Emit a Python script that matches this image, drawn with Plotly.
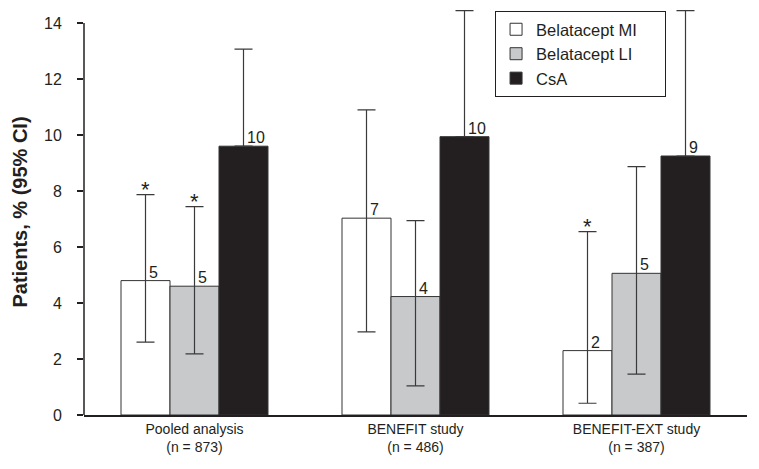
import plotly.graph_objects as go

groups = ["Pooled analysis<br>(n = 873)", "BENEFIT study<br>(n = 486)", "BENEFIT-EXT study<br>(n = 387)"]
series = ["Belatacept MI", "Belatacept LI", "CsA"]
values = {
    "Belatacept MI": [4.8, 7.03, 2.3],
    "Belatacept LI": [4.6, 4.23, 5.06],
    "CsA": [9.6, 9.94, 9.25],
}
ci_upper = {
    "Belatacept MI": [7.87, 10.9, 6.55],
    "Belatacept LI": [7.44, 6.94, 8.87],
    "CsA": [13.07, 14.44, 14.44],
}
# lower limits of the CsA intervals are hidden inside the black bars
ci_lower = {
    "Belatacept MI": [2.6, 2.97, 0.42],
    "Belatacept LI": [2.18, 1.04, 1.46],
    "CsA": [9.6, 9.94, 9.25],
}
labels = {
    "Belatacept MI": ["5", "7", "2"],
    "Belatacept LI": ["5", "4", "5"],
    "CsA": ["10", "10", "9"],
}
significant = {
    "Belatacept MI": [True, False, True],
    "Belatacept LI": [True, False, False],
    "CsA": [False, False, False],
}
colors = {"Belatacept MI": "#ffffff", "Belatacept LI": "#c8c9cb", "CsA": "#231f20"}

FONT = "Liberation Sans, Arial, sans-serif"
DARK = "#231f20"
bar_w = 0.2217
offsets = [-bar_w, 0, bar_w]
xpos = [0, 1, 2]
legend_pad = {"Belatacept MI": "\u00a0" * 5, "Belatacept LI": "", "CsA": ""}

fig = go.Figure()
for si, s in enumerate(series):
    xs = [x + offsets[si] for x in xpos]
    fig.add_trace(go.Bar(
        x=xs, y=values[s], name=s + legend_pad[s], width=bar_w,
        marker=dict(color=colors[s], line=dict(color="#333333", width=1)),
        error_y=dict(type="data", symmetric=False,
                     array=[u - v for u, v in zip(ci_upper[s], values[s])],
                     arrayminus=[v - l for v, l in zip(values[s], ci_lower[s])],
                     color="#3a3a3a", thickness=1.2, width=9),
        cliponaxis=False,
    ))
    for i, x in enumerate(xs):
        fig.add_annotation(x=x, y=values[s][i], text=labels[s][i], showarrow=False,
                           xanchor="left", yanchor="bottom", xshift=1, yshift=-2,
                           font=dict(family=FONT, size=16, color=DARK))
        if significant[s][i]:
            fig.add_annotation(x=x, y=ci_upper[s][i], text="*", showarrow=False,
                               xanchor="center", yanchor="bottom", yshift=-9,
                               font=dict(family=FONT, size=22, color=DARK))

fig.add_shape(type="line", xref="paper", yref="y", x0=0, x1=0, y0=0, y1=14,
              line=dict(color=DARK, width=1.5))

# the page body adds an 8px margin, so the figure is 8px smaller on each axis
fig.update_layout(
    width=751, height=461,
    margin=dict(l=76, r=12, t=1, b=54, autoexpand=False),
    paper_bgcolor="white", plot_bgcolor="white",
    barmode="overlay",
    font=dict(family=FONT, size=15, color=DARK),
    showlegend=True,
    legend=dict(x=0.62, y=0.995, xanchor="left", yanchor="top",
                bordercolor=DARK, borderwidth=1, bgcolor="white",
                font=dict(family=FONT, size=16.5, color=DARK), tracegroupgap=0),
    xaxis=dict(range=[-0.5, 2.5], tickmode="array", tickvals=xpos, ticktext=groups,
               showline=True, linecolor=DARK, linewidth=1.5, ticks="", showgrid=False,
               zeroline=False, automargin=False,
               tickfont=dict(family=FONT, size=14, color=DARK)),
    yaxis=dict(range=[0, 14.5], tickmode="array", tickvals=list(range(0, 15, 2)),
               showline=False, ticks="outside", ticklen=6, tickcolor=DARK, tickwidth=1.5,
               ticklabelstandoff=12,
               showgrid=False, zeroline=False, automargin=False,
               tickfont=dict(family=FONT, size=16, color=DARK),
               title=dict(text="<b>Patients, % (95% CI)</b>", standoff=11,
                          font=dict(family=FONT, size=20, color=DARK))),
)

fig.write_html("out.html")
